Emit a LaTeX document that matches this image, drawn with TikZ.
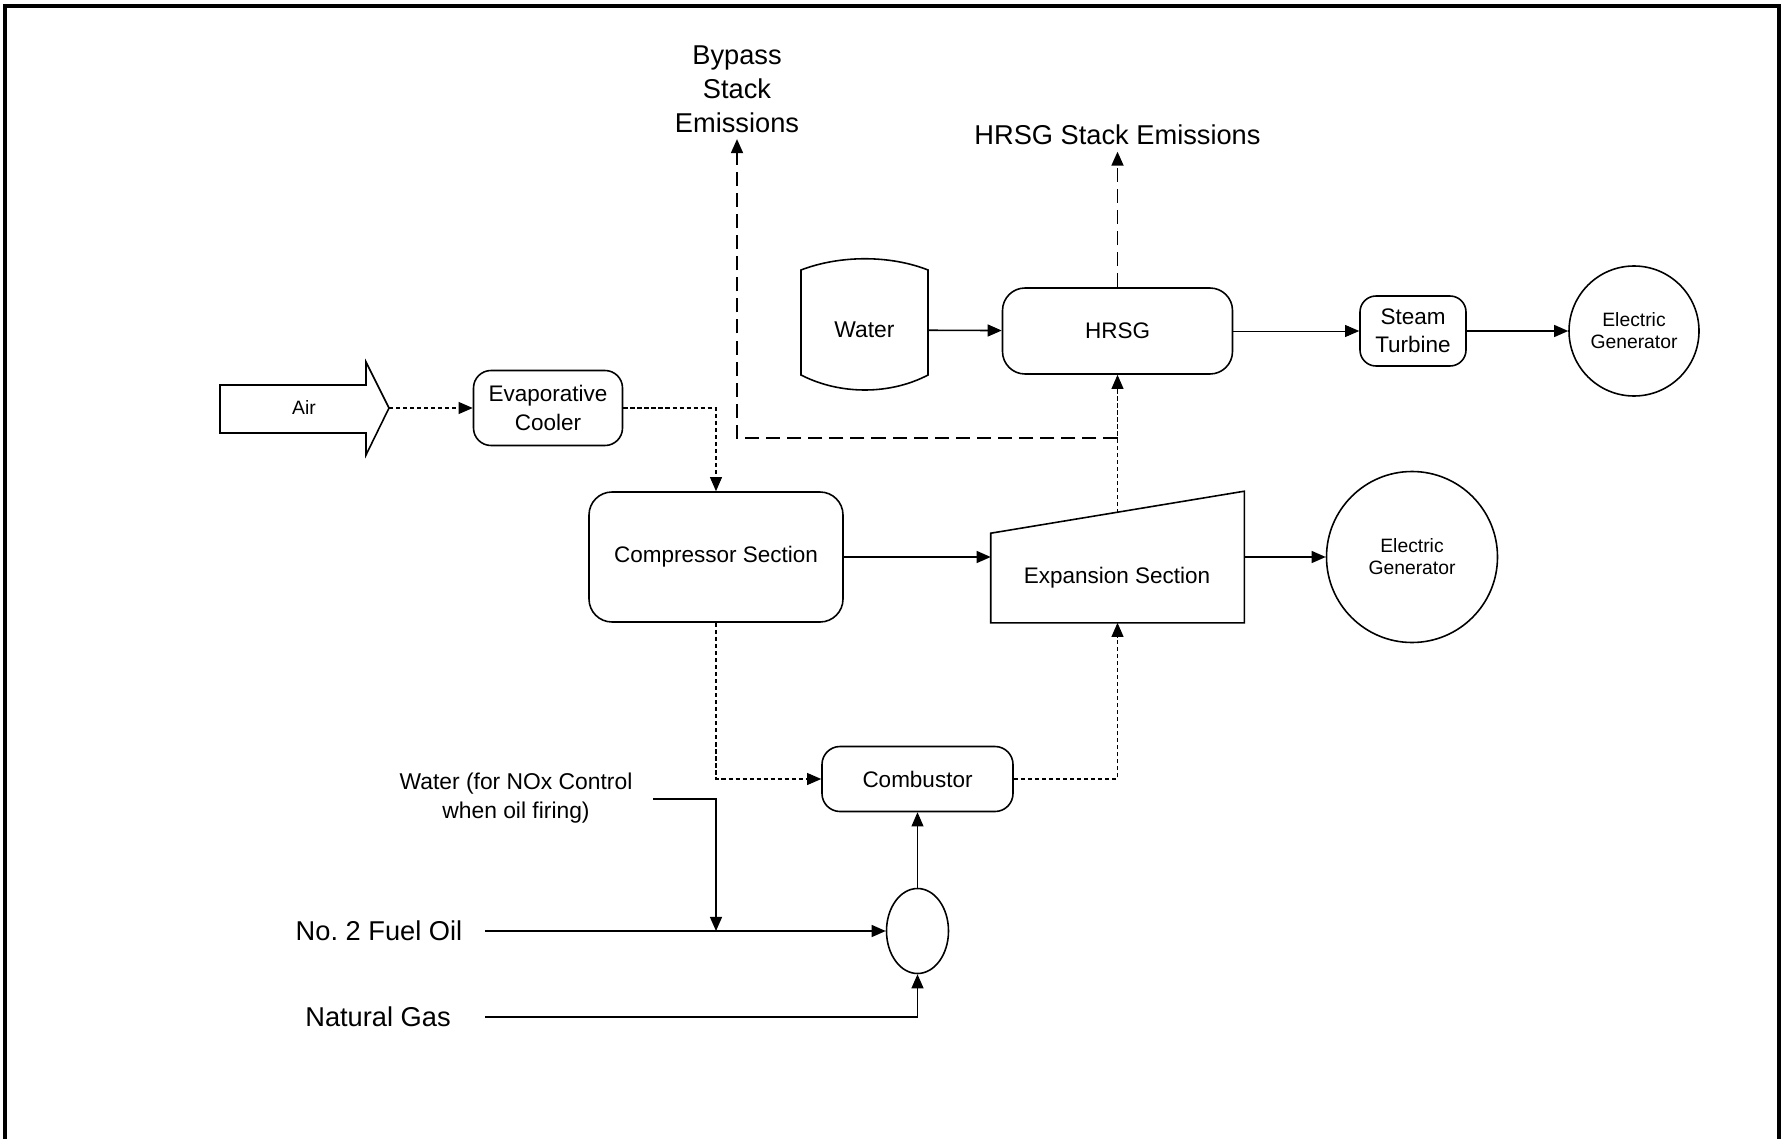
\documentclass[tikz,border=0pt]{standalone}
\usepackage{fontspec}
\setmainfont{Liberation Sans}
\usepackage{tikz}
\usetikzlibrary{arrows.meta,shapes.geometric}
\frenchspacing

\begin{document}
\begin{tikzpicture}[>={Triangle[length=8pt,width=6.8pt]}, line width=0.9pt,
    box/.style={draw, rounded corners=0.4cm, align=center, font=\fontsize{12.8}{16}\selectfont},
    genr/.style={draw, circle, inner sep=0pt, align=center, font=\fontsize{11}{12.5}\selectfont},
    flow/.style={->, line width=0.6pt, dash pattern=on 2.4pt off 1.6pt},
    stack/.style={->, line width=1.1pt, dash pattern=on 8pt off 4pt},
    big/.style={align=center, font=\fontsize{15.5}{19.3}\selectfont}]
    \useasboundingbox (0,0) rectangle (35.62,-22.78);
    \draw [line width=1.9pt] (0.10,-22.78) -- (0.10,-0.12) -- (35.58,-0.12) -- (35.58,-22.78);
    \draw (4.40,-7.70) -- (7.32,-7.70) -- (7.32,-7.24) -- (7.78,-8.16) -- (7.32,-9.10) -- (7.32,-8.66) -- (4.40,-8.66) -- cycle;
    \node [font=\fontsize{11}{13}\selectfont] (air) at (6.08,-8.14) {Air};
    \coordinate (airtip) at (7.78,-8.16);
    \node [box, minimum width=2.98cm, minimum height=1.50cm, rounded corners=0.35cm] (evap) at (10.96,-8.16) {Evaporative\\Cooler};
    \node [box, minimum width=5.08cm, minimum height=2.60cm, rounded corners=0.46cm] (comp) at (14.32,-11.14) {Compressor Section};
    \node [minimum width=5.04cm, minimum height=2.60cm] (expan) at (22.35,-11.14) {};
    \draw (expan.south west) -- (expan.south east) -- (expan.north east) -- ([yshift=-0.84cm]expan.north west) -- cycle;
    \node [font=\fontsize{12.8}{16}\selectfont] (expantext) at (22.34,-11.56) {Expansion Section};
    \coordinate (expantop) at (22.35,-10.26);
    \node [genr, minimum size=3.42cm] (gen1) at (28.24,-11.14) {Electric\\Generator};
    \node [minimum width=2.54cm, minimum height=2.10cm, font=\fontsize{13}{16}\selectfont] (water) at (17.29,-6.60) {Water};
    \draw (16.02,-5.40) .. controls (16.8,-5.10) and (17.8,-5.10) .. (18.56,-5.40) -- (18.56,-7.50) .. controls (17.8,-7.90) and (16.8,-7.90) .. (16.02,-7.50) -- cycle;
    \node [box, minimum width=4.60cm, minimum height=1.72cm, rounded corners=0.45cm] (hrsg) at (22.35,-6.62) {HRSG};
    \node [box, minimum width=2.12cm, minimum height=1.40cm, rounded corners=0.32cm] (steam) at (28.26,-6.62) {Steam\\Turbine};
    \node [genr, minimum size=2.60cm] (gen2) at (32.68,-6.62) {Electric\\Generator};
    \node [box, minimum width=3.82cm, minimum height=1.30cm, rounded corners=0.36cm] (comb) at (18.35,-15.58) {Combustor};
    \node [draw, ellipse, minimum width=1.24cm, minimum height=1.70cm] (mix) at (18.35,-18.62) {};
    \node [big] (bypass) at (14.74,-1.78) {Bypass\\Stack\\Emissions};
    \node [big] (hrsgstack) at (22.35,-2.70) {HRSG Stack Emissions};
    \node [big] (oil) at (7.58,-18.62) {No. 2 Fuel Oil};
    \node [big] (gas) at (7.56,-20.34) {Natural Gas};
    \node [align=center, font=\fontsize{13}{16.4}\selectfont] (nox) at (10.32,-15.96) {Water (for NOx Control\\when oil firing)};
    \coordinate (oilin) at (9.70,-18.62);
    \coordinate (gasin) at (9.70,-20.34);
    \coordinate (waterin) at (13.06,-15.98);
    \coordinate (oiljoin) at (14.32,-18.62);
    \coordinate (bypassjoin) at (22.35,-8.76);
    \draw [flow] (airtip) -- (evap);
    \draw [flow] (evap.east) -| (comp.north);
    \draw [->] (comp) -- (expan);
    \draw [->] (expan) -- (gen1);
    \draw [flow] (comp.south) |- (comb.west);
    \draw [flow] (comb.east) -| (expan.south);
    \draw [flow] (expantop) -- (hrsg.south);
    \draw [stack] (hrsg.north) -- (hrsgstack.south);
    \draw [stack] (bypassjoin) -| (bypass.south);
    \draw [->] (water) -- (hrsg);
    \draw [->, line width=0.5pt] (hrsg) -- (steam);
    \draw [->] (steam) -- (gen2);
    \draw [->, line width=0.5pt] (mix) -- (comb);
    \draw [->] (oilin) -- (mix.west);
    \draw [->] (gasin) -| (mix.south);
    \draw [->] (waterin) -| (oiljoin);
\end{tikzpicture}
\end{document}
